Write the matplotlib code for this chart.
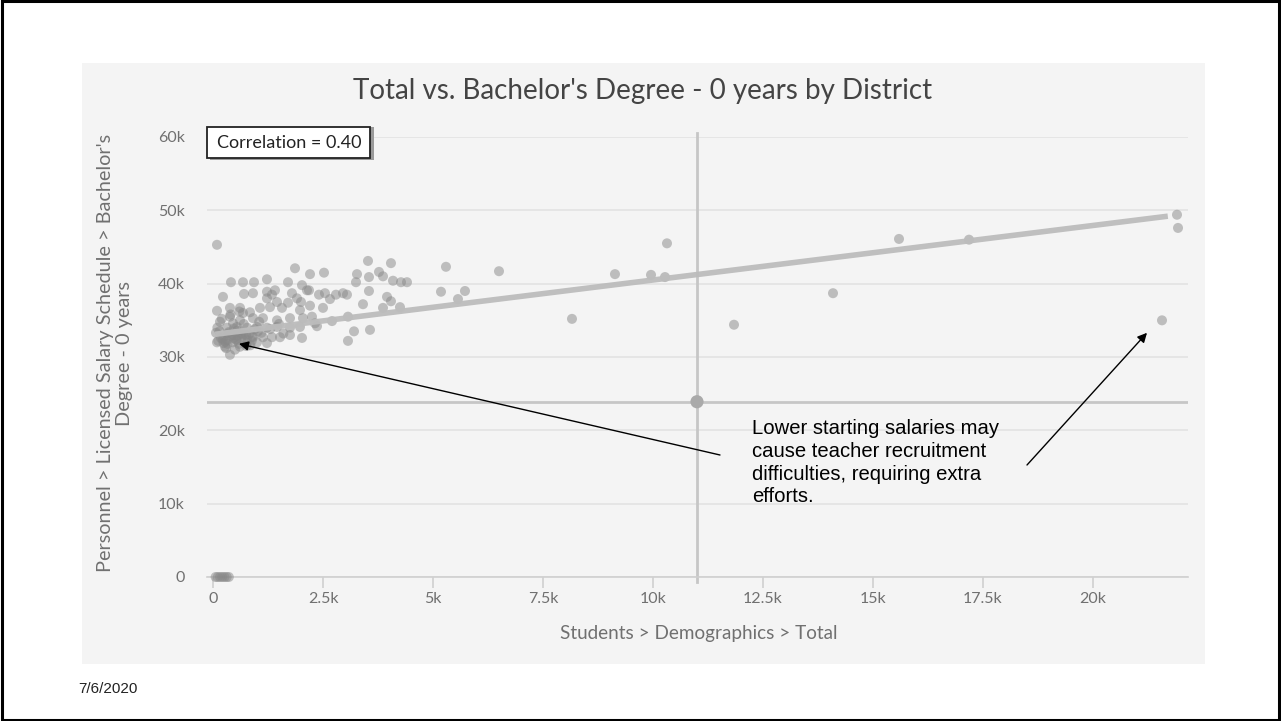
import matplotlib
matplotlib.use("Agg")
import matplotlib.pyplot as plt
from matplotlib.patches import Rectangle
import numpy as np

# ---------------- data ----------------
students = [
    91, 1864, 409, 682, 932, 1227, 1705, 227, 705, 909, 1227, 1341, 1795, 1909, 2136,
    1455, 386, 614, 91, 841, 1068, 1295, 1568, 1705, 1977, 159, 386, 614, 909, 1136,
    1455, 1750, 2045, 2318, 68, 318, 545, 773, 1000, 1227, 1455, 1750, 1977, 91, 318,
    545, 773, 1000, 1227, 1523, 1750, 386, 614, 273, 455, 682, 909, 1136, 1341, 455,
    682, 1227, 1409,
    3523, 4045, 2205, 2523, 3273, 3250, 3545, 3773, 3864, 4091, 4273, 4409, 2023, 2182,
    3545, 2409, 2545, 2659, 2795, 2955, 3045, 3409, 3955, 4045, 3864, 4250, 2205, 2500,
    2000, 2250, 2705, 3068, 2364, 3205, 3568, 3068, 2023,
    5295, 5182, 5568, 5727, 6500, 8159, 9136, 9955, 10273, 10318, 11841,
    14091, 15591, 17182, 21568, 21932, 21909,
    150, 250, 350, 450, 550, 650, 750, 850, 950, 300, 500, 700, 200, 400, 600, 100,
    1100, 1300, 1500, 1600, 220, 480, 820, 1050, 330, 560, 120, 760,
    180, 280, 420, 520, 640, 780, 900, 1020, 240, 360, 470, 590, 700, 880,
]
salary_k = [
    45.3, 42.1, 40.2, 40.2, 40.2, 40.6, 40.2, 38.2, 38.6, 38.7, 38.9, 38.5, 38.7, 38.0, 39.1,
    37.5, 36.7, 36.7, 36.3, 36.1, 36.7, 36.8, 36.7, 37.4, 36.4, 34.8, 35.5, 35.0, 35.3, 35.3,
    35.0, 35.3, 35.3, 34.6, 33.3, 34.0, 34.1, 34.0, 34.1, 34.0, 34.1, 34.0, 34.1, 32.0, 32.3,
    32.3, 31.9, 32.0, 31.9, 32.7, 33.0, 30.3, 31.4, 31.4, 33.0, 33.0, 32.7, 32.7, 32.7, 34.6,
    36.0, 38.0, 39.1,
    43.1, 42.8, 41.3, 41.5, 41.3, 40.2, 40.9, 41.6, 41.0, 40.4, 40.2, 40.2, 39.8, 39.1,
    39.0, 38.5, 38.7, 37.9, 38.5, 38.7, 38.5, 37.2, 38.2, 37.6, 36.7, 36.8, 37.0, 36.7,
    37.5, 35.5, 34.9, 35.5, 34.2, 33.5, 33.7, 32.2, 32.6,
    42.3, 38.9, 37.9, 39.0, 41.7, 35.2, 41.3, 41.2, 40.9, 45.5, 34.4,
    38.7, 46.1, 46.0, 35.0, 47.6, 49.4,
    33.5, 32.8, 33.2, 32.0, 33.6, 32.5, 33.0, 31.6, 33.8, 31.2, 31.0, 34.5, 35.2, 35.8, 36.2, 34.0,
    33.3, 33.8, 34.5, 33.2, 32.4, 33.9, 33.1, 34.8, 31.8, 32.9, 32.2, 31.5,
    32.6, 32.1, 32.9, 32.4, 33.2, 32.3, 32.8, 33.5, 31.9, 33.4, 32.6, 31.8, 33.1, 32.2,
]
zero_students = [60, 110, 160, 210, 260, 310, 360]
zero_salary = [0, 0, 0, 0, 0, 0, 0]

trend_x = [50, 21700]
trend_y = [33100, 49200]

mean_x = 11000
mean_y = 23900

x_ticks = [0, 2500, 5000, 7500, 10000, 12500, 15000, 17500, 20000]
x_tick_labels = ["0", "2.5k", "5k", "7.5k", "10k", "12.5k", "15k", "17.5k", "20k"]
y_ticks = [0, 10000, 20000, 30000, 40000, 50000, 60000]
y_tick_labels = ["0", "10k", "20k", "30k", "40k", "50k", "60k"]

title = "Total vs. Bachelor's Degree - 0 years by District"
x_label = "Students > Demographics > Total"
y_label = "Personnel > Licensed Salary Schedule > Bachelor's\nDegree - 0 years"
corr_text = "Correlation = 0.40"
note_text = ("Lower starting salaries may\ncause teacher recruitment\n"
             "difficulties, requiring extra\nefforts.")
date_text = "7/6/2020"

# ---------------- figure ----------------
W, H = 1281, 721
fig = plt.figure(figsize=(W / 100, H / 100), dpi=100)
fig.patch.set_facecolor("white")
FONT = ["Lato", "DejaVu Sans"]
NOTE_FONT = ["Liberation Sans", "DejaVu Sans"]


def fx(px):
    return px / W


def fy(py):
    return 1 - py / H


# slide border
fig.patches.append(Rectangle((0.0015, 0.002), 0.997, 0.996, transform=fig.transFigure,
                             fill=False, edgecolor="black", linewidth=2.2, zorder=-2))
# chart panel
fig.patches.append(Rectangle((fx(82), fy(664)), fx(1205) - fx(82), fy(63) - fy(664),
                             transform=fig.transFigure, facecolor="#f4f4f4",
                             edgecolor="none", zorder=-2))

ax = fig.add_axes([fx(207), fy(577), fx(1188) - fx(207), fy(137) - fy(577)])
ax.set_facecolor("#f4f4f4")
ax.set_xlim(-136, 22159)
ax.set_ylim(0, 60000)

for s in ["top", "right", "left"]:
    ax.spines[s].set_visible(False)
ax.spines["bottom"].set_color("#cfcfcf")
ax.spines["bottom"].set_linewidth(1.2)

ax.set_yticks(y_ticks)
ax.set_yticklabels(y_tick_labels)
ax.set_xticks(x_ticks)
ax.set_xticklabels(x_tick_labels)
ax.tick_params(axis="y", length=0, pad=16, labelsize=11.5, labelcolor="#707070")
ax.tick_params(axis="x", length=8, width=1.2, color="#cfcfcf", pad=3,
               labelsize=11.5, labelcolor="#707070")
for lab in ax.get_xticklabels() + ax.get_yticklabels():
    lab.set_family(FONT)
ax.yaxis.grid(True, color="#e2e2e2", linewidth=1.2)
ax.set_axisbelow(True)

# crosshair
ax.axvline(mean_x, color="#c6c6c6", linewidth=2, zorder=1, ymin=-0.012, ymax=1.01,
           clip_on=False)
ax.axhline(mean_y, color="#c6c6c6", linewidth=2, zorder=1)

# points
ax.scatter(students, [v * 1000 for v in salary_k], s=52, color="#888888",
           alpha=0.5, edgecolors="none", zorder=3)
ax.scatter(zero_students, zero_salary, s=52, color="#888888", alpha=0.5,
           edgecolors="none", zorder=3, clip_on=False)
ax.scatter([mean_x], [mean_y], s=90, color="#aaaaaa", edgecolors="none", zorder=4)

# trend line
ax.plot(trend_x, trend_y, color="#bcbcbc", linewidth=4, solid_capstyle="butt",
        zorder=4, alpha=0.95)

# title / labels
fig.text(fx(643), fy(91), title, ha="center", va="center", fontsize=20,
         color="#444444", family=FONT)
fig.text(fx(699), fy(634), x_label, ha="center", va="center", fontsize=13.6,
         color="#707070", family=FONT)
fig.text(fx(115), fy(353), y_label, ha="center", va="center", rotation=90,
         fontsize=14.3, color="#707070", family=FONT, multialignment="center",
         linespacing=1.2)

# correlation box
fig.patches.append(Rectangle((fx(210), fy(160)), fx(372) - fx(208), fy(127) - fy(160),
                             transform=fig.transFigure, facecolor="#9a9a9a",
                             edgecolor="none", zorder=5))
fig.patches.append(Rectangle((fx(207), fy(158)), fx(370) - fx(207), fy(127) - fy(158),
                             transform=fig.transFigure, facecolor="white",
                             edgecolor="#222222", linewidth=1.3, zorder=6))
fig.text(fx(289), fy(142.5), corr_text, ha="center", va="center", fontsize=13,
         color="#222222", family=FONT, zorder=7)

# annotation text and arrows
fig.text(fx(752), fy(419), note_text, ha="left", va="top", fontsize=14.6,
         color="black", family=NOTE_FONT, linespacing=1.25)
ax.annotate("", xy=(591, 31800), xycoords="data",
            xytext=(720, H - 455), textcoords="figure pixels",
            arrowprops=dict(arrowstyle="-|>", color="black", lw=1, mutation_scale=14,
                            shrinkA=0, shrinkB=0), zorder=8)
ax.annotate("", xy=(21227, 33300), xycoords="data",
            xytext=(1027, H - 465), textcoords="figure pixels",
            arrowprops=dict(arrowstyle="-|>", color="black", lw=1, mutation_scale=14,
                            shrinkA=0, shrinkB=0), zorder=8)

fig.text(fx(78), fy(689), date_text, ha="left", va="center", fontsize=11,
         color="#222222", family=NOTE_FONT)

fig.savefig("out.png", dpi=100)
